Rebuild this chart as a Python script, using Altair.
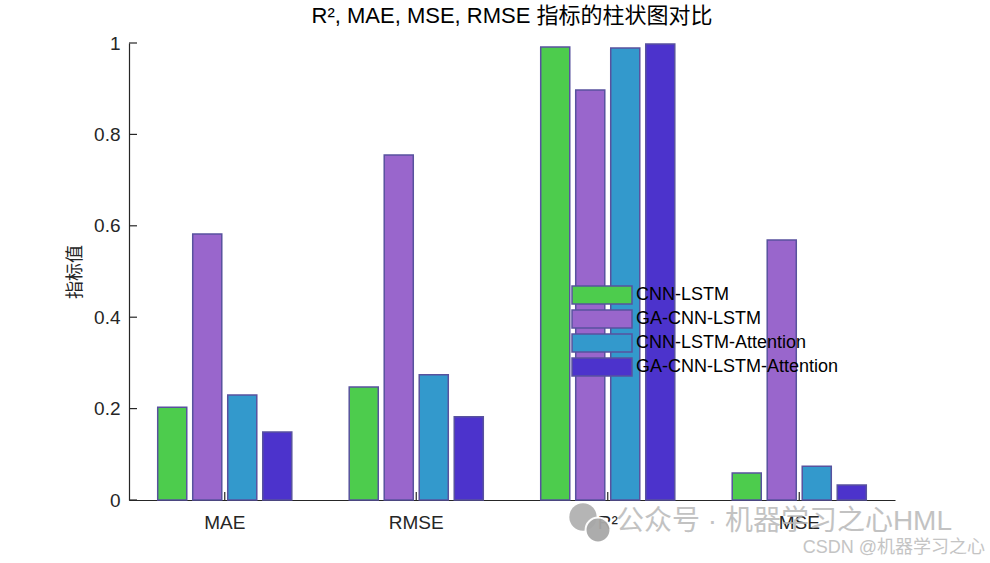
import altair as alt
import pandas as pd

categories = ["MAE", "RMSE", "R²", "MSE"]
models = ["CNN-LSTM", "GA-CNN-LSTM", "CNN-LSTM-Attention", "GA-CNN-LSTM-Attention"]
cnn_lstm = [0.203, 0.247, 0.991, 0.059]
ga_cnn_lstm = [0.582, 0.755, 0.897, 0.569]
cnn_lstm_att = [0.230, 0.274, 0.989, 0.074]
ga_cnn_lstm_att = [0.149, 0.182, 0.998, 0.033]
colors = ["#4DCC4D", "#9966CC", "#3399CC", "#4C33CC"]
y_ticks = [0, 0.2, 0.4, 0.6, 0.8, 1]
title_text = "R², MAE, MSE, RMSE 指标的柱状图对比"
y_title = "指标值"
watermark1 = "公众号 · 机器学习之心HML"
watermark2 = "CSDN @机器学习之心"

rows = []
for m, vals in zip(models, [cnn_lstm, ga_cnn_lstm, cnn_lstm_att, ga_cnn_lstm_att]):
    for c, v in zip(categories, vals):
        rows.append({"metric": c, "model": m, "value": v})
df = pd.DataFrame(rows)

FONT = "Liberation Sans, Arial, Noto Sans CJK SC, sans-serif"
AX = "#262626"
EDGE = "#58529E"

x_scale = alt.Scale(domain=categories, paddingInner=0, paddingOuter=0)
y_scale = alt.Scale(domain=[0, 1], nice=False)

bars = alt.Chart(df).mark_bar(stroke=EDGE, strokeWidth=1.5, strokeOpacity=1).encode(
    x=alt.X("metric:N", scale=x_scale, sort=categories,
            axis=alt.Axis(title=None, ticks=False, labelAngle=0, labelFontSize=19,
                          labelPadding=13, labelColor=AX, domainColor=AX, domainWidth=1.2,
                          labelFont=FONT, grid=False)),
    xOffset=alt.XOffset("model:N", sort=models,
                        scale=alt.Scale(domain=models, paddingInner=0.17, paddingOuter=0.82)),
    y=alt.Y("value:Q", scale=y_scale,
            axis=alt.Axis(values=y_ticks, format="~g", ticks=False, grid=False,
                          title=y_title, titleFontSize=18, titleFontWeight="normal",
                          titleColor=AX, titleFont=FONT, titlePadding=9,
                          labelFontSize=19, labelColor=AX, labelFont=FONT, labelPadding=9,
                          domainColor=AX, domainWidth=1.2)),
    color=alt.Color("model:N", sort=models, scale=alt.Scale(domain=models, range=colors),
                    legend=alt.Legend(title=None, orient="none", legendX=463, legendY=242,
                                      symbolType="M-3.333,-1H3.333V1H-3.333Z", symbolSize=324,
                                      symbolStrokeColor=EDGE, symbolStrokeWidth=1.5,
                                      symbolOpacity=1, labelLimit=0,
                                      labelFontSize=18, labelFont=FONT, labelColor="#000",
                                      labelOffset=24, rowPadding=0, padding=0)),
)

ytick_df = pd.DataFrame({"v": y_ticks})
yticks = alt.Chart(ytick_df).mark_rule(color=AX, strokeWidth=1.2).encode(
    y=alt.Y("v:Q", scale=y_scale), x=alt.value(0), x2=alt.value(8)
)

xtick_df = pd.DataFrame({"metric": categories})
xticks = alt.Chart(xtick_df).mark_rule(color=AX, strokeWidth=1.2).encode(
    x=alt.X("metric:N", scale=x_scale, sort=categories), y=alt.value(457), y2=alt.value(449)
)

wm_df = pd.DataFrame({"a": [watermark1], "b": [watermark2]})
icon_big = alt.Chart(wm_df).mark_circle(size=750, color="#A8A8A8", opacity=0.85).encode(
    x=alt.value(454), y=alt.value(474))
icon_small = alt.Chart(wm_df).mark_circle(size=620, color="#A8A8A8", opacity=0.95,
                                          stroke="white", strokeWidth=2).encode(
    x=alt.value(469), y=alt.value(487))
wm1 = alt.Chart(wm_df).mark_text(fontSize=28, font=FONT, color="#B4B4B4", opacity=0.8,
                                 align="left", baseline="middle").encode(
    text="a:N", x=alt.value(487), y=alt.value(479))
wm2 = alt.Chart(wm_df).mark_text(fontSize=18, font=FONT, color="#BEBEBE", opacity=0.9,
                                 align="right", baseline="middle").encode(
    text="b:N", x=alt.value(856), y=alt.value(505))

chart = alt.layer(bars, yticks, xticks, icon_big, icon_small, wm1, wm2).properties(
    width=766, height=457,
    padding={"left": 129, "top": 43, "right": 95, "bottom": 63},
    autosize=alt.AutoSizeParams(type="none"),
    background="white",
    title=alt.TitleParams(title_text, fontSize=22, fontWeight="normal", font=FONT,
                          color="#000", anchor="middle", offset=6),
).configure_view(strokeWidth=0, stroke="transparent")

chart.save("out.html", embed_options={"renderer": "svg", "actions": False})
